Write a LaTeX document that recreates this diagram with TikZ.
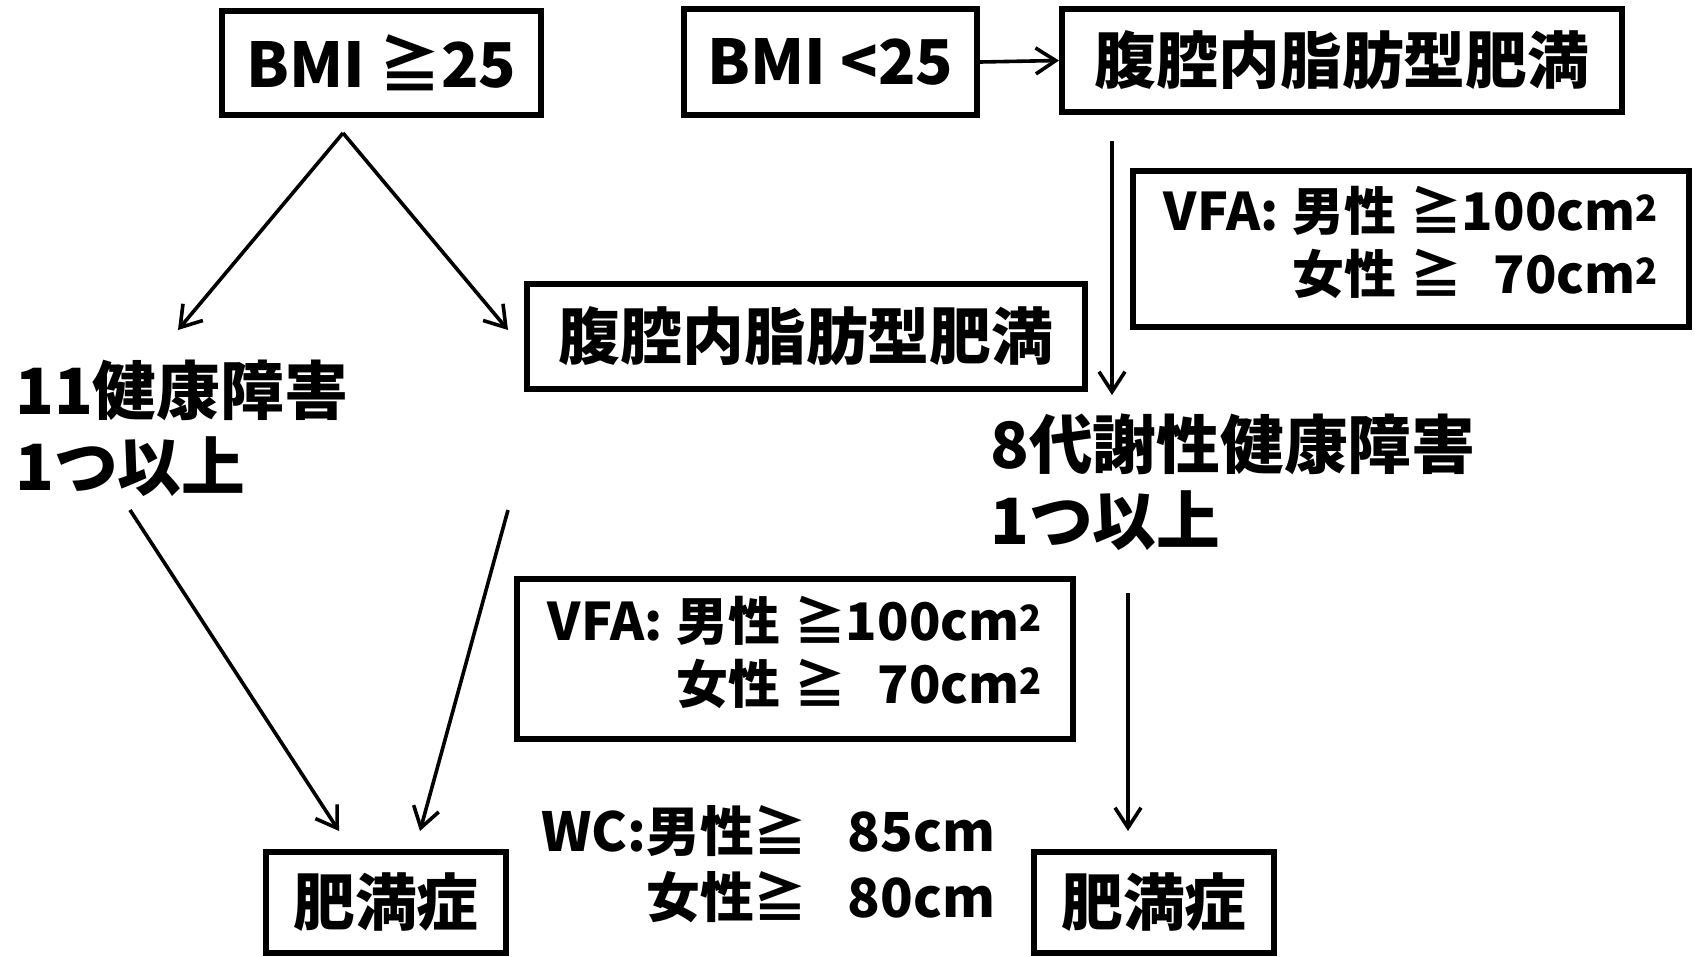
\documentclass[tikz,border=0pt]{standalone}
\usepackage{fontspec}
\setmainfont{Noto Sans CJK JP}
\usetikzlibrary{arrows.meta}
\begin{document}
\begin{tikzpicture}[x=1bp,y=-1bp,
  box/.style={draw,line width=6bp,inner sep=0pt,font=\bfseries\fontsize{62}{62}\selectfont},
  vbox/.style={draw,line width=6bp,inner sep=0pt,font=\bfseries\fontsize{52}{62}\selectfont},
  arr/.style={line width=3.6bp,-{Straight Barb[length=20bp,width=26bp,line width=3.6bp]}},
  big/.style={font=\bfseries\fontsize{64}{76}\selectfont,inner sep=0pt,align=left,anchor=west},
  wc/.style={font=\bfseries\fontsize{54}{66}\selectfont,inner sep=0pt,anchor=west}]
\useasboundingbox (0,0) rectangle (1696,956);
% boxes
\node[box,minimum width=319bp,minimum height=104bp] (bmiA) at (381.5,63) {BMI ≧25};
\node[box,minimum width=293bp,minimum height=106bp] (bmiB) at (830.5,62) {BMI <25};
\node[box,minimum width=560bp,minimum height=103bp] (vtop) at (1342,60.5) {腹腔内脂肪型肥満};
\node[box,minimum width=558bp,minimum height=105bp] (vmid) at (806,336.5) {腹腔内脂肪型肥満};
\node[vbox,minimum width=556bp,minimum height=156bp] (vfaR) at (1411,249) {%
  \begin{tabular}{@{}l@{\hspace{14bp}}l@{\hspace{14bp}}c@{}r@{}l@{}}
  VFA: & 男性 & ≧ & 100 & cm\textsuperscript{2}\\
       & 女性 & ≧ & 70 & cm\textsuperscript{2}
  \end{tabular}};
\node[vbox,minimum width=556bp,minimum height=160bp] (vfaM) at (795,659) {%
  \begin{tabular}{@{}l@{\hspace{14bp}}l@{\hspace{14bp}}c@{}r@{}l@{}}
  VFA: & 男性 & ≧ & 100 & cm\textsuperscript{2}\\
       & 女性 & ≧ & 70 & cm\textsuperscript{2}
  \end{tabular}};
\node[box,minimum width=240bp,minimum height=101bp] (obL) at (386,902) {肥満症};
\node[box,minimum width=240bp,minimum height=101bp] (obR) at (1154,902) {肥満症};
% free texts
\node[big] (t11) at (15,428) {11健康障害\\1つ以上};
\node[big] (t8) at (990,482) {8代謝性健康障害\\1つ以上};
\node[wc] (wcT) at (541,871) {%
  \begin{tabular}{@{}l@{}l@{\hspace{40bp}}l@{}}
  WC: & 男性≧ & 85cm\\
      & 女性≧ & 80cm
  \end{tabular}};
% connector ends
\coordinate (apex) at (343,133);
\coordinate (e11) at (178,330);
\coordinate (evm) at (508,330);
\coordinate (s11) at (130,510);
\coordinate (svm) at (508,510);
\coordinate (sv1) at (1112,141);
\coordinate (ev1) at (1112,395);
\coordinate (s8) at (1128,593);
\coordinate (eobL1) at (339,831);
\coordinate (eobL2) at (420,831);
\coordinate (eobR) at (1128,831);
% connectors
\draw[arr] (bmiB.east) -- (vtop.west);
\draw[arr] (apex) -- (e11);
\draw[arr] (apex) -- (evm);
\draw[arr] (sv1) -- (ev1);
\draw[arr] (s11) -- (eobL1);
\draw[arr] (svm) -- (eobL2);
\draw[arr] (s8) -- (eobR);
\end{tikzpicture}
\end{document}
